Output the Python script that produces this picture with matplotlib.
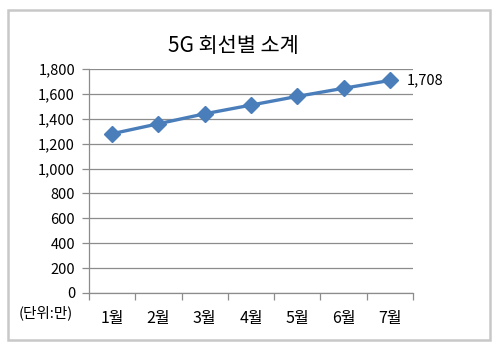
import matplotlib
matplotlib.use("Agg")
import matplotlib.pyplot as plt
from matplotlib.patches import Rectangle
from matplotlib.ticker import FuncFormatter, FixedLocator

plt.rcParams['font.family'] = ['Noto Sans CJK KR', 'DejaVu Sans']

months = ['1월', '2월', '3월', '4월', '5월', '6월', '7월']
values = [1280, 1360, 1440, 1510, 1580, 1645, 1708]
title = '5G 회선별 소계'
unit_label = '(단위:만)'
yticks = [0, 200, 400, 600, 800, 1000, 1200, 1400, 1600, 1800]

fig = plt.figure(figsize=(5.0, 3.54), dpi=100)
fig.patches.append(Rectangle((8/500, 1-340/354), 482/500, 330/354,
                             transform=fig.transFigure, fill=False,
                             edgecolor='#c8c8c8', linewidth=1.8))

ax = fig.add_axes([89/500, 1-293/354, 324/500, 224/354])
x = list(range(len(months)))
ax.plot(x, values, color='#4a7ebb', linewidth=2.4, marker='D',
        markersize=8, markerfacecolor='#4a7ebb', markeredgecolor='#4a7ebb', zorder=3)
ax.set_xlim(-0.5, len(months) - 0.5)
ax.set_ylim(0, 1800)
ax.set_yticks(yticks)
ax.yaxis.set_major_formatter(FuncFormatter(lambda v, p: f'{int(v):,}'))
ax.grid(axis='y', color='#8c8c8c', linewidth=0.9)
ax.set_axisbelow(True)

ax.set_xticks(x)
ax.set_xticklabels(months)
ax.xaxis.set_minor_locator(FixedLocator([i - 0.5 for i in range(len(months) + 1)]))
ax.tick_params(axis='x', which='major', length=0, pad=12, labelsize=11.5, colors='black')
ax.tick_params(axis='x', which='minor', length=5, width=0.9, color='#8c8c8c', direction='out')
ax.tick_params(axis='y', length=5, width=0.9, color='#8c8c8c', labelsize=10.5, pad=5)

for s in ['top', 'right']:
    ax.spines[s].set_visible(False)
for s in ['left', 'bottom']:
    ax.spines[s].set_color('#8c8c8c')
    ax.spines[s].set_linewidth(0.9)

ax.annotate(f'{values[-1]:,}', xy=(x[-1], values[-1]), xytext=(12, 0),
            textcoords='offset points', va='center', ha='left', fontsize=10.5)

fig.text(233/500, 1-46/354, title, ha='center', va='center', fontsize=15)
fig.text(46/500, 1-313/354, unit_label, ha='center', va='center', fontsize=10.5)

fig.savefig('out.png', dpi=100)
